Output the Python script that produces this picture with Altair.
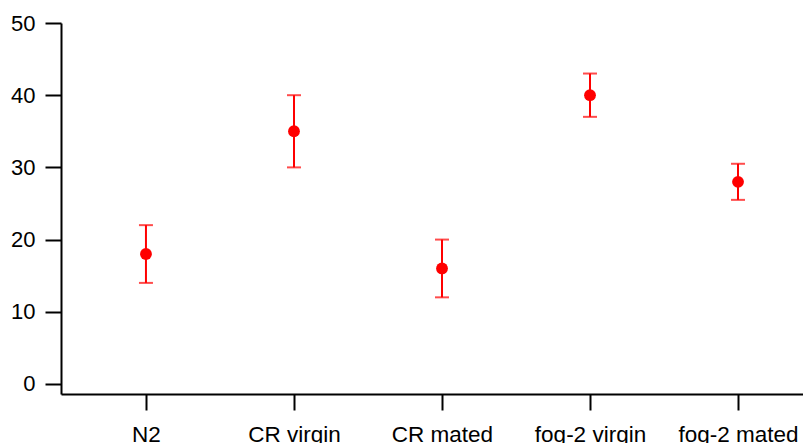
import altair as alt
import pandas as pd

groups = ["N2", "CR virgin", "CR mated", "fog-2 virgin", "fog-2 mated"]
means = [18, 35, 16, 40, 28]
lows = [14, 30, 12, 37, 25.5]
highs = [22, 40, 20, 43, 30.5]
y_ticks = [0, 10, 20, 30, 40, 50]

df = pd.DataFrame({
    "idx": list(range(len(groups))),
    "group": groups,
    "mean": means,
    "low": lows,
    "high": highs,
})

label_expr = "[" + ",".join(f"'{g}'" for g in groups) + "][round(datum.value)]"

FONT = "Liberation Sans"
RED = "#ff0000"

x_enc = alt.X("idx:Q",
              scale=alt.Scale(domain=[-0.574, 4.439], nice=False, zero=False),
              axis=alt.Axis(values=list(range(len(groups))), labelExpr=label_expr,
                            title=None, grid=False, domainColor="black", domainWidth=2,
                            tickColor="black", tickWidth=2, tickSize=16,
                            labelFont=FONT, labelFontSize=22.5, labelColor="black",
                            labelPadding=13, labelFlush=False, labelOverlap=False))
y_scale = alt.Scale(domain=[-1.39, 50], nice=False, zero=False)
y_axis = alt.Axis(values=y_ticks, title=None, grid=False, domainColor="black",
                  domainWidth=2, tickColor="black", tickWidth=2, tickSize=16,
                  labelFont=FONT, labelFontSize=22, labelColor="black",
                  labelPadding=10, labelFlush=False)

base = alt.Chart(df)

bars = base.mark_rule(color=RED, strokeWidth=2).encode(
    x=x_enc,
    y=alt.Y("low:Q", scale=y_scale, axis=y_axis),
    y2="high:Q",
)
caps_lo = base.mark_tick(color=RED, thickness=2, size=14, orient="horizontal").encode(
    x="idx:Q", y=alt.Y("low:Q", scale=y_scale))
caps_hi = base.mark_tick(color=RED, thickness=2, size=14, orient="horizontal").encode(
    x="idx:Q", y=alt.Y("high:Q", scale=y_scale))
points = base.mark_point(filled=True, color=RED, opacity=1, size=140, shape="circle").encode(
    x="idx:Q", y=alt.Y("mean:Q", scale=y_scale))

chart = alt.layer(bars, caps_lo, caps_hi, points).properties(
    width=742, height=371,
    autosize=alt.AutoSizeParams(type="none"),
    padding={"left": 61, "top": 23, "right": 0, "bottom": 49},
    background="white",
).configure_view(stroke=None)

chart.save("out.html", embed_options={"renderer": "svg", "actions": False})
